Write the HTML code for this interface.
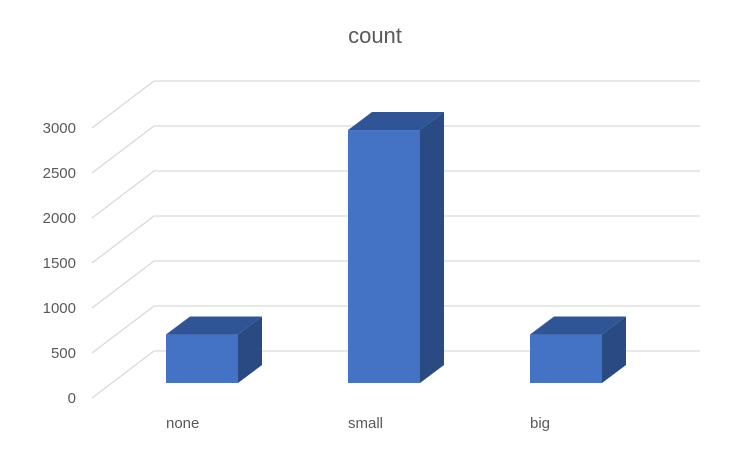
<!DOCTYPE html>
<html><head><meta charset="utf-8"><style>
body{margin:0;background:#fff;}
svg{font-family:"Liberation Sans",sans-serif;}
</style></head><body>
<svg id="chart" width="750" height="449" viewBox="0 0 750 449" xmlns="http://www.w3.org/2000/svg">
<text x="375" y="43" text-anchor="middle" font-size="22" fill="#595959">count</text>
<g id="grid"></g><g id="bars"></g><g id="labels"></g>
</svg>
<script>
const categories=["none","small","big"];
const values=[540,2820,540];
const ticks=[0,500,1000,1500,2000,2500,3000];
const NS="http://www.w3.org/2000/svg";
const yFront=v=>397-v*0.09;
const grid=document.getElementById('grid'),bars=document.getElementById('bars'),labels=document.getElementById('labels');
function mk(tag,attrs,parent){const e=document.createElementNS(NS,tag);for(const k in attrs)e.setAttribute(k,attrs[k]);parent.appendChild(e);return e;}
ticks.forEach(t=>{
  const y=yFront(t);
  const g=mk('path',{d:`M92,${y+1} L154,${y-46} L700,${y-46}`,stroke:'#d9d9d9','stroke-width':1.3,fill:'none'},grid);
  
  
  const tx=mk('text',{x:76,y:y+6,'text-anchor':'end','font-size':15,fill:'#595959'},labels);
  tx.textContent=t;
  
  
});
const x0=166,step=182,w=72,dx=24,dy=-18,base=383,sc=0.0897;
categories.forEach((c,i)=>{
  const x=x0+i*step,h=values[i]*sc,top=base-h;
  const g=mk('g',{},bars);
  
  
  mk('polygon',{points:`${x},${top} ${x+dx},${top+dy} ${x+w+dx},${top+dy} ${x+w},${top}`,fill:'#2f5597'},g);
  mk('polygon',{points:`${x+w},${top} ${x+w+dx},${top+dy} ${x+w+dx},${base+dy} ${x+w},${base}`,fill:'#294a82'},g);
  mk('rect',{x:x,y:top,width:w,height:h,fill:'#4472c4'},g);
  const tx=mk('text',{x:x,y:428,'font-size':15,fill:'#595959'},labels);
  tx.textContent=c;
  
  
});
</script>
</body></html>
